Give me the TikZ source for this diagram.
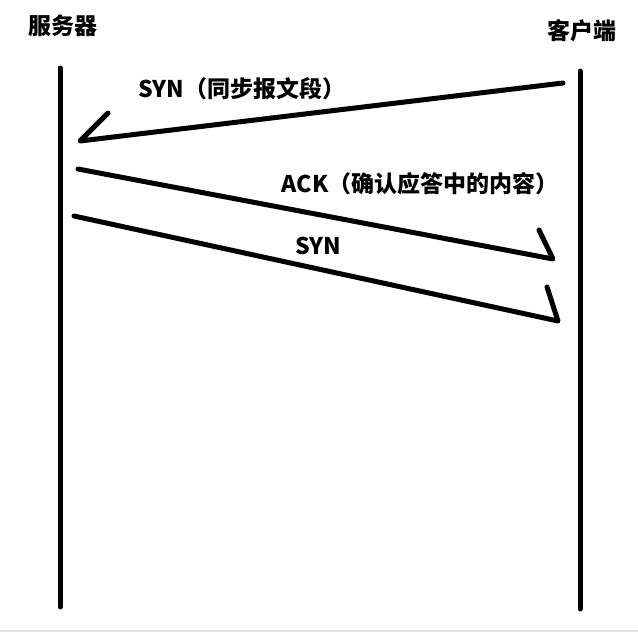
\documentclass[tikz,border=0pt]{standalone}
\usepackage{fontspec}
\newfontfamily\cjkfont{Noto Sans CJK SC}
\definecolor{sqblack}{RGB}{0,0,0}
\definecolor{sqgray}{RGB}{228,228,228}
\usetikzlibrary{positioning}

\begin{document}
\begin{tikzpicture}[x=1pt,y=-1pt,
  lifeline/.style={line width=5pt,line cap=round,sqblack},
  msgline/.style={line width=5pt,line cap=round,line join=round,sqblack},
  party/.style={font=\cjkfont\bfseries\fontsize{23}{27}\selectfont,inner sep=0pt},
  msglabel/.style={font=\cjkfont\bfseries\fontsize{23}{27}\selectfont,inner sep=0pt}]
  \useasboundingbox (0,0) rectangle (638,633);
  \fill[white] (0,0) rectangle (638,633);
  \draw[line width=2pt,sqgray] (0,631) -- (638,631);
  % Parties
  \node[party] (srv) at (63,26) {服务器};
  \node[party] (cli) at (582,31) {客户端};
  % Lifelines
  \coordinate (srvtop) at (60,68);
  \coordinate (srvbot) at (60,607);
  \coordinate (clitop) at (580,71);
  \coordinate (clibot) at (580,609);
  \draw[lifeline] (srvtop) -- (srvbot);
  \draw[lifeline] (clitop) -- (clibot);
  % SYN from client
  \coordinate (synAfrom) at (563,83);
  \coordinate (synAto) at (80,141);
  \coordinate (synAbarb) at (108,113);
  \draw[msgline] (synAfrom) -- (synAto) -- (synAbarb);
  \node[msglabel] (synAlbl) at (242,89) {SYN（同步报文段）};
  % ACK to client
  \coordinate (ackfrom) at (78,169);
  \coordinate (ackto) at (553,259);
  \coordinate (ackbarb) at (539,230);
  \draw[msgline] (ackfrom) -- (ackto) -- (ackbarb);
  \node[msglabel] (acklbl) at (420,184) {ACK（确认应答中的内容）};
  % SYN to client
  \coordinate (synBfrom) at (74,216);
  \coordinate (synBto) at (558,321);
  \coordinate (synBbarb) at (547,287);
  \draw[msgline] (synBfrom) -- (synBto) -- (synBbarb);
  \node[msglabel] (synBlbl) at (318,246) {SYN};
\end{tikzpicture}
\end{document}
